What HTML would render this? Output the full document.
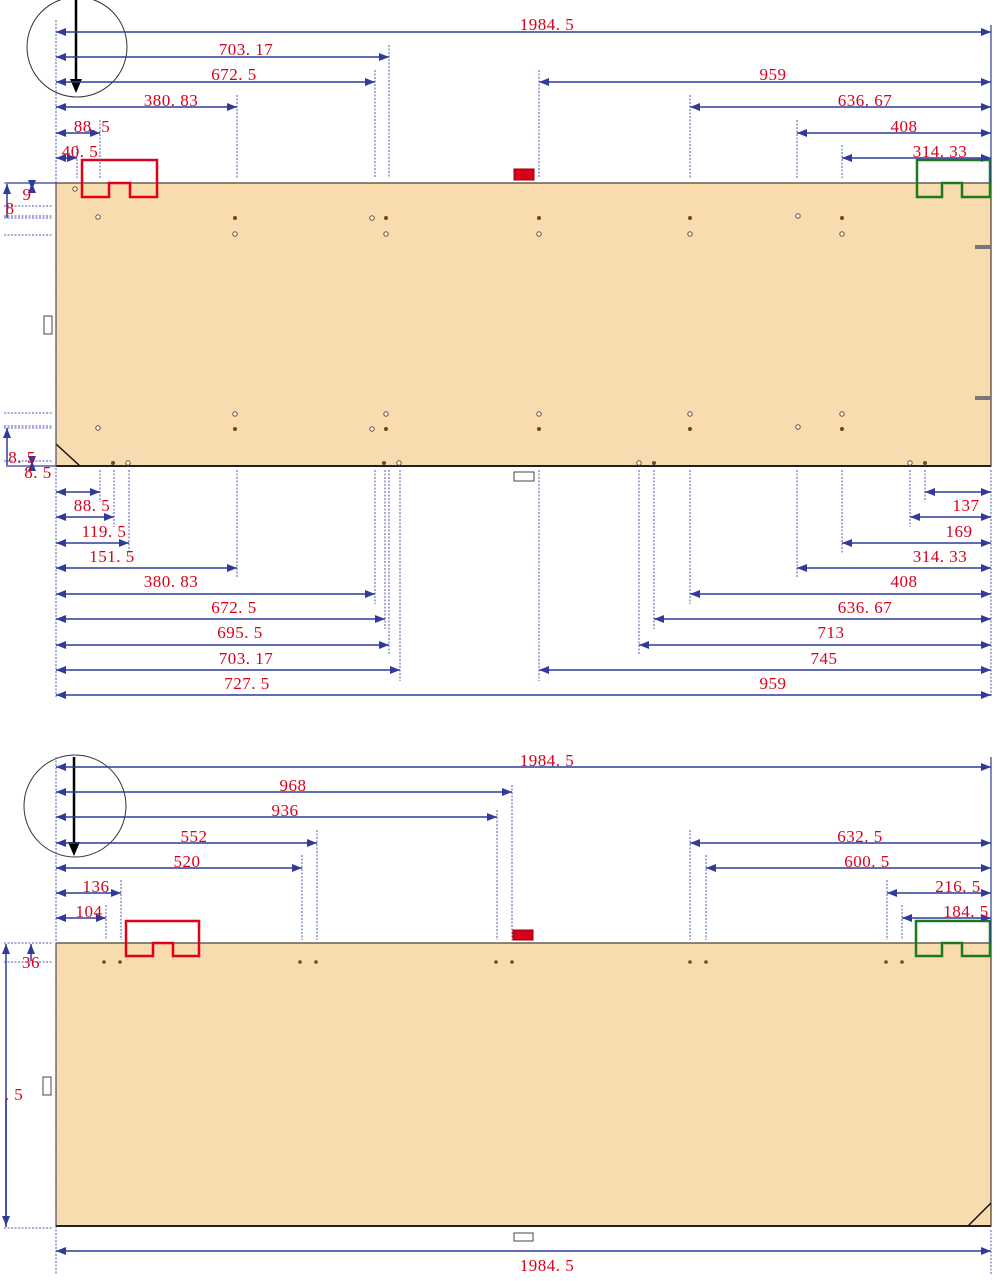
<!DOCTYPE html>
<html><head><meta charset="utf-8"><style>
html,body{margin:0;padding:0;background:#fff}
svg{display:block}
text{font-family:"Liberation Serif",serif;font-size:17px;fill:#d8001a;text-anchor:middle;letter-spacing:0.5px}
.d{stroke:#2f3b9c;stroke-width:1.5;marker-start:url(#a);marker-end:url(#a)}
.e{stroke:#5058b0;stroke-width:1;stroke-dasharray:2,1.5}
.h{fill:#fff;stroke:#6a4a2a;stroke-width:1}
.f{fill:#6a4a2a}
</style></head><body>
<svg width="1000" height="1281" viewBox="0 0 1000 1281" xmlns="http://www.w3.org/2000/svg">
<defs><marker id="a" viewBox="0 0 10 8" markerWidth="10" markerHeight="8" refX="10" refY="4" orient="auto-start-reverse" markerUnits="userSpaceOnUse"><path d="M0,0L10,4L0,8z" fill="#2f3b9c"/></marker></defs>

<rect x="56" y="183" width="935" height="283" fill="#f9dbb0" stroke="#4a3a2a" stroke-width="1.2"/>
<line x1="56" y1="466" x2="991" y2="466" stroke="#222" stroke-width="2"/>
<line x1="56" y1="444" x2="80" y2="466" stroke="#111" stroke-width="1.5"/>
<rect x="975" y="245" width="16" height="4" fill="#777"/>
<rect x="975" y="396" width="16" height="4" fill="#777"/>
<rect x="44" y="316" width="8" height="18" fill="#fff" stroke="#444"/>
<rect x="514" y="472" width="20" height="9" fill="#fff" stroke="#444"/>
<rect x="514" y="169" width="20" height="11" fill="#d8001a" stroke="#900"/>
<path d="M82,160H157V197H130V183H109V197H82Z" fill="none" stroke="#e0001a" stroke-width="2.5"/>
<path d="M917,160H990V197H962V183H942V197H917Z" fill="none" stroke="#1c7a1c" stroke-width="2.5"/>
<circle cx="77" cy="47" r="50" fill="none" stroke="#333" stroke-width="1"/>
<line x1="76" y1="0" x2="76" y2="80" stroke="#000" stroke-width="2.5"/>
<path d="M70,79L82,79L76,93Z" fill="#000"/>

<g>
<circle class="h" cx="75" cy="189" r="2.2"/>
<circle class="h" cx="98" cy="217" r="2.2"/><circle class="f" cx="235" cy="218" r="2"/><circle class="h" cx="372" cy="218" r="2.2"/><circle class="f" cx="386" cy="218" r="2"/><circle class="f" cx="539" cy="218" r="2"/><circle class="f" cx="690" cy="218" r="2"/><circle class="h" cx="798" cy="216" r="2.2"/><circle class="f" cx="842" cy="218" r="2"/>
<circle class="h" cx="235" cy="234" r="2.2"/><circle class="h" cx="386" cy="234" r="2.2"/><circle class="h" cx="539" cy="234" r="2.2"/><circle class="h" cx="690" cy="234" r="2.2"/><circle class="h" cx="842" cy="234" r="2.2"/>
<circle class="h" cx="235" cy="414" r="2.2"/><circle class="h" cx="386" cy="414" r="2.2"/><circle class="h" cx="539" cy="414" r="2.2"/><circle class="h" cx="690" cy="414" r="2.2"/><circle class="h" cx="842" cy="414" r="2.2"/>
<circle class="h" cx="98" cy="428" r="2.2"/><circle class="f" cx="235" cy="429" r="2"/><circle class="h" cx="372" cy="429" r="2.2"/><circle class="f" cx="386" cy="429" r="2"/><circle class="f" cx="539" cy="429" r="2"/><circle class="f" cx="690" cy="429" r="2"/><circle class="h" cx="798" cy="427" r="2.2"/><circle class="f" cx="842" cy="429" r="2"/>
<circle class="f" cx="113" cy="463" r="2"/><circle class="h" cx="128" cy="463" r="2.2"/><circle class="f" cx="384" cy="463" r="2"/><circle class="h" cx="399" cy="463" r="2.2"/><circle class="h" cx="639" cy="463" r="2.2"/><circle class="f" cx="654" cy="463" r="2"/><circle class="h" cx="910" cy="463" r="2.2"/><circle class="f" cx="925" cy="463" r="2"/>
</g>

<g class="e"><line x1="4" y1="183" x2="52" y2="183"/><line x1="4" y1="206" x2="52" y2="206"/><line x1="4" y1="216" x2="52" y2="216"/><line x1="4" y1="218" x2="52" y2="218"/><line x1="4" y1="235" x2="52" y2="235"/><line x1="4" y1="413" x2="52" y2="413"/><line x1="4" y1="426" x2="52" y2="426"/><line x1="4" y1="428" x2="52" y2="428"/><line x1="4" y1="461" x2="52" y2="461"/></g>
<line x1="6" y1="183" x2="56" y2="183" stroke="#2f3b9c" stroke-width="1.2"/>
<line x1="6" y1="466" x2="56" y2="466" stroke="#2f3b9c" stroke-width="1.2"/>
<line x1="7" y1="218" x2="7" y2="184" class="d" style="marker-start:none"/>
<line x1="32" y1="183" x2="32" y2="190" class="d"/>
<line x1="7" y1="428" x2="7" y2="465" class="d" style="marker-end:none"/>
<line x1="32" y1="461" x2="32" y2="466" class="d"/>
<text x="27" y="200">9</text><text x="10" y="214">8</text>
<text x="22" y="463">8. 5</text><text x="38" y="478">8. 5</text>

<g class="e">
<line x1="56" y1="20" x2="56" y2="697"/>
<line x1="389" y1="45" x2="389" y2="178"/><line x1="375" y1="70" x2="375" y2="178"/><line x1="237" y1="95" x2="237" y2="178"/><line x1="100" y1="120" x2="100" y2="178"/><line x1="77" y1="145" x2="77" y2="178"/>
<line x1="539" y1="70" x2="539" y2="178"/><line x1="690" y1="95" x2="690" y2="178"/><line x1="797" y1="120" x2="797" y2="178"/><line x1="842" y1="145" x2="842" y2="178"/>
<line x1="991" y1="470" x2="991" y2="697"/>
</g>
<line x1="991" y1="25" x2="991" y2="183" stroke="#2f3b9c" stroke-width="1.2"/>

<line class="d" x1="56" y1="32" x2="991" y2="32"/><text x="547" y="30">1984. 5</text>
<line class="d" x1="56" y1="57" x2="389" y2="57"/><text x="246" y="55">703. 17</text>
<line class="d" x1="56" y1="82" x2="375" y2="82"/><text x="234" y="80">672. 5</text>
<line class="d" x1="539" y1="82" x2="991" y2="82"/><text x="773" y="80">959</text>
<line class="d" x1="56" y1="107" x2="237" y2="107"/><text x="171" y="106">380. 83</text>
<line class="d" x1="690" y1="107" x2="991" y2="107"/><text x="865" y="106">636. 67</text>
<line class="d" x1="56" y1="133" x2="100" y2="133"/><text x="92" y="132">88. 5</text>
<line class="d" x1="797" y1="133" x2="991" y2="133"/><text x="904" y="132">408</text>
<line class="d" x1="56" y1="158" x2="77" y2="158"/><text x="80" y="157">40. 5</text>
<line class="d" x1="842" y1="158" x2="991" y2="158"/><text x="940" y="157">314. 33</text>

<g class="e">
<line x1="100" y1="470" x2="100" y2="502"/><line x1="114" y1="470" x2="114" y2="527"/><line x1="129" y1="470" x2="129" y2="553"/><line x1="237" y1="470" x2="237" y2="578"/><line x1="375" y1="470" x2="375" y2="604"/><line x1="385" y1="470" x2="385" y2="629"/><line x1="389" y1="470" x2="389" y2="655"/><line x1="400" y1="470" x2="400" y2="681"/>
<line x1="925" y1="470" x2="925" y2="502"/><line x1="910" y1="470" x2="910" y2="527"/><line x1="842" y1="470" x2="842" y2="553"/><line x1="797" y1="470" x2="797" y2="578"/><line x1="690" y1="470" x2="690" y2="604"/><line x1="654" y1="470" x2="654" y2="629"/><line x1="639" y1="470" x2="639" y2="655"/><line x1="539" y1="470" x2="539" y2="681"/>
</g>
<line class="d" x1="56" y1="492" x2="100" y2="492"/><text x="92" y="511">88. 5</text>
<line class="d" x1="56" y1="517" x2="114" y2="517"/><text x="104" y="537">119. 5</text>
<line class="d" x1="56" y1="543" x2="129" y2="543"/><text x="112" y="562">151. 5</text>
<line class="d" x1="56" y1="568" x2="237" y2="568"/><text x="171" y="587">380. 83</text>
<line class="d" x1="56" y1="594" x2="375" y2="594"/><text x="234" y="613">672. 5</text>
<line class="d" x1="56" y1="619" x2="385" y2="619"/><text x="240" y="638">695. 5</text>
<line class="d" x1="56" y1="645" x2="389" y2="645"/><text x="246" y="664">703. 17</text>
<line class="d" x1="56" y1="670" x2="400" y2="670"/><text x="247" y="689">727. 5</text>
<line class="d" x1="925" y1="492" x2="991" y2="492"/><text x="966" y="511">137</text>
<line class="d" x1="910" y1="517" x2="991" y2="517"/><text x="959" y="537">169</text>
<line class="d" x1="842" y1="543" x2="991" y2="543"/><text x="940" y="562">314. 33</text>
<line class="d" x1="797" y1="568" x2="991" y2="568"/><text x="904" y="587">408</text>
<line class="d" x1="690" y1="594" x2="991" y2="594"/><text x="865" y="613">636. 67</text>
<line class="d" x1="654" y1="619" x2="991" y2="619"/><text x="831" y="638">713</text>
<line class="d" x1="639" y1="645" x2="991" y2="645"/><text x="824" y="664">745</text>
<line class="d" x1="539" y1="670" x2="991" y2="670"/><text x="773" y="689">959</text>
<line class="d" x1="56" y1="695" x2="991" y2="695"/>

<rect x="56" y="943" width="935" height="283" fill="#f9dbb0" stroke="#4a3a2a" stroke-width="1.2"/>
<line x1="56" y1="1226" x2="991" y2="1226" stroke="#222" stroke-width="2"/>
<line x1="968" y1="1226" x2="991" y2="1203" stroke="#111" stroke-width="1.5"/>
<rect x="43" y="1077" width="8" height="18" fill="#fff" stroke="#444"/>
<rect x="514" y="1233" width="19" height="8" fill="#fff" stroke="#444"/>
<rect x="513" y="930" width="20" height="10" fill="#d8001a" stroke="#900"/>
<path d="M126,921H199V956H173V943H153V956H126Z" fill="none" stroke="#e0001a" stroke-width="2.5"/>
<path d="M916,921H990V956H962V943H942V956H916Z" fill="none" stroke="#1c7a1c" stroke-width="2.5"/>
<circle cx="75" cy="806" r="51" fill="none" stroke="#333" stroke-width="1"/>
<line x1="74" y1="757" x2="74" y2="843" stroke="#000" stroke-width="2.5"/>
<path d="M68,842L80,842L74,856Z" fill="#000"/>
<g class="f"><circle cx="104" cy="962" r="1.8"/><circle cx="120" cy="962" r="1.8"/><circle cx="300" cy="962" r="1.8"/><circle cx="316" cy="962" r="1.8"/><circle cx="496" cy="962" r="1.8"/><circle cx="512" cy="962" r="1.8"/><circle cx="690" cy="962" r="1.8"/><circle cx="706" cy="962" r="1.8"/><circle cx="886" cy="962" r="1.8"/><circle cx="902" cy="962" r="1.8"/></g>

<g class="e"><line x1="4" y1="943" x2="52" y2="943"/><line x1="4" y1="962" x2="52" y2="962"/><line x1="4" y1="1228" x2="52" y2="1228"/></g>
<line class="d" x1="6" y1="1227" x2="6" y2="944" style="marker-start:none"/>
<line class="d" x1="6" y1="1100" x2="6" y2="1226" style="marker-start:none"/>
<line class="d" x1="31" y1="961" x2="31" y2="944" style="marker-start:none"/>
<text x="31" y="968">36</text>
<text x="14" y="1100">. 5</text>

<g class="e">
<line x1="56" y1="757" x2="56" y2="1275"/>
<line x1="512" y1="785" x2="512" y2="940"/><line x1="497" y1="810" x2="497" y2="940"/><line x1="317" y1="830" x2="317" y2="940"/><line x1="302" y1="855" x2="302" y2="940"/><line x1="121" y1="880" x2="121" y2="940"/><line x1="106" y1="905" x2="106" y2="940"/>
<line x1="690" y1="830" x2="690" y2="940"/><line x1="706" y1="855" x2="706" y2="940"/><line x1="887" y1="880" x2="887" y2="940"/><line x1="902" y1="905" x2="902" y2="940"/>
<line x1="991" y1="1230" x2="991" y2="1275"/>
</g>
<line x1="991" y1="757" x2="991" y2="943" stroke="#2f3b9c" stroke-width="1.2"/>

<line class="d" x1="56" y1="767" x2="991" y2="767"/><text x="547" y="766">1984. 5</text>
<line class="d" x1="56" y1="792" x2="512" y2="792"/><text x="293" y="791">968</text>
<line class="d" x1="56" y1="817" x2="497" y2="817"/><text x="285" y="816">936</text>
<line class="d" x1="56" y1="843" x2="317" y2="843"/><text x="194" y="842">552</text>
<line class="d" x1="690" y1="843" x2="991" y2="843"/><text x="860" y="842">632. 5</text>
<line class="d" x1="56" y1="868" x2="302" y2="868"/><text x="187" y="867">520</text>
<line class="d" x1="706" y1="868" x2="991" y2="868"/><text x="867" y="867">600. 5</text>
<line class="d" x1="56" y1="893" x2="121" y2="893"/><text x="96" y="892">136</text>
<line class="d" x1="887" y1="893" x2="991" y2="893"/><text x="958" y="892">216. 5</text>
<line class="d" x1="56" y1="918" x2="106" y2="918"/><text x="89" y="917">104</text>
<line class="d" x1="902" y1="918" x2="991" y2="918"/><text x="966" y="917">184. 5</text>
<line class="d" x1="56" y1="1251" x2="991" y2="1251"/><text x="547" y="1271">1984. 5</text>
</svg>
</body></html>
